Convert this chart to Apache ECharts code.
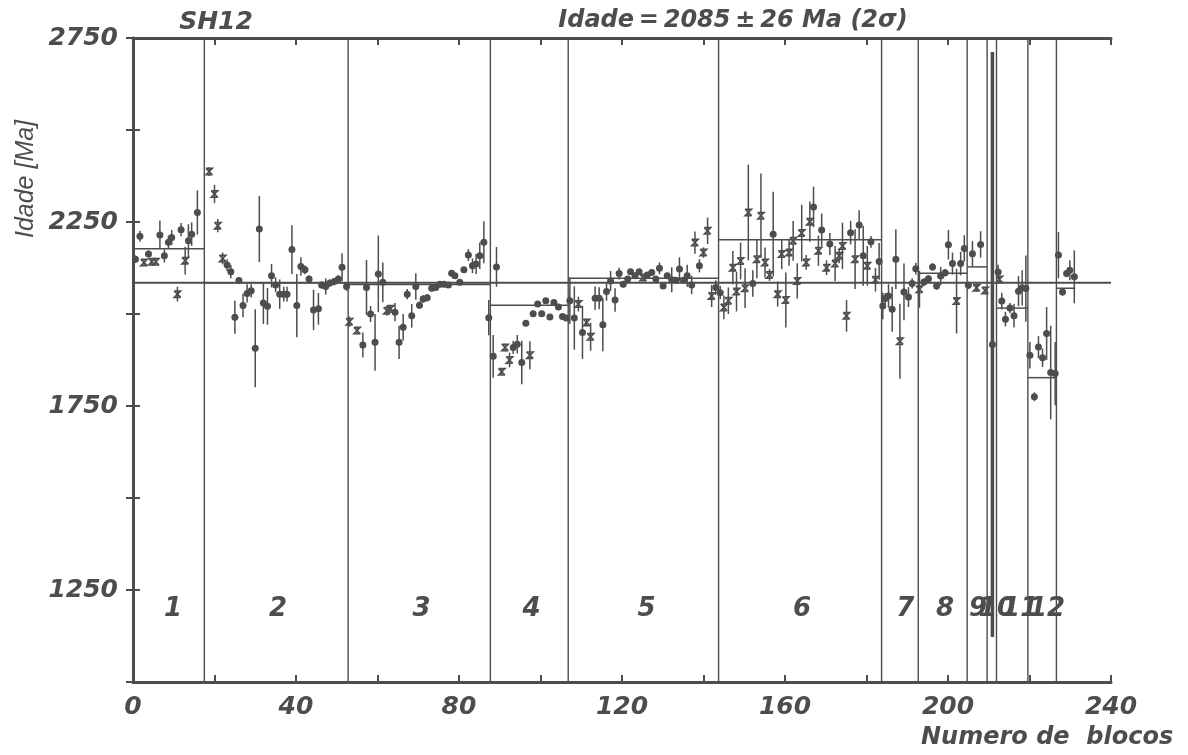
<!DOCTYPE html>
<html>
<head>
<meta charset="utf-8">
<script src="https://cdn.jsdelivr.net/npm/echarts@6/dist/echarts.min.js"></script>
<style>
  html, body { margin: 0; padding: 0; background: #ffffff; }
  #c { width: 1188px; height: 755px; }
</style>
</head>
<body>
<div id="c"></div>
<script>
// Pb-Pb evaporation ages of sample SH12, by block number.
// Each tuple: [block number, age (Ma), error (Ma), kind] with kind 0 = filled circle, 1 = star.
const bloco1 = [[0.6,2149,10,0],[1.7,2211,15,0],[2.7,2140,8,1],[3.8,2163,9,0],[4.6,2142,8,1],[5.6,2142,8,1],
  [6.6,2215,39,0],[7.7,2158,18,0],[8.7,2195,18,0],[9.5,2208,20,0],[10.9,2054,20,1],[11.8,2229,18,0],
  [12.8,2145,38,1],[13.6,2199,45,0],[14.4,2217,32,0],[15.8,2276,60,0]];
const bloco2 = [[18.7,2387,12,1],[20.0,2326,25,1],[20.8,2240,18,1],[22.0,2151,16,1],[23.1,2133,16,0],
  [24.0,2115,18,0],[25.0,1991,45,0],[26.0,2091,8,0],[27.0,2023,32,0],[28.0,2056,25,0],[29.0,2063,18,0],
  [30.0,1907,106,0],[31.0,2231,90,0],[32.0,2030,57,0],[33.0,2021,50,0],[34.0,2104,32,0],[35.0,2079,20,0],
  [36.0,2054,40,0],[37.0,2054,20,0],[37.8,2054,20,0],[39.0,2175,66,0],[40.2,2023,86,0],[41.2,2129,25,0],
  [42.2,2120,12,0],[43.2,2095,10,0],[44.3,2011,55,0],[45.5,2014,43,0],[46.3,2079,10,0],[47.3,2075,22,0],
  [48.3,2084,10,0],[49.4,2088,10,0],[50.4,2095,10,0],[51.3,2127,38,0],[52.4,2075,12,0]];
const bloco3 = [[53.1,1979,14,1],[55.0,1955,10,1],[56.4,1916,34,0],[57.3,2072,75,0],[58.3,2000,22,0],
  [59.4,1923,77,0],[60.2,2109,104,0],[61.3,2086,54,0],[62.3,2009,14,1],[63.2,2014,10,1],[64.3,2005,25,0],
  [65.3,1923,45,0],[66.3,1964,36,0],[67.3,2054,14,0],[68.4,1995,32,0],[69.4,2075,36,0],[70.3,2024,10,0],
  [71.2,2041,10,0],[72.2,2044,10,0],[73.3,2070,8,0],[74.3,2072,8,0],[75.3,2081,8,0],[76.3,2081,8,0],
  [77.4,2079,8,0],[78.2,2111,8,0],[79.0,2104,8,0],[80.2,2086,8,0],[81.2,2120,8,0],[82.3,2160,16,0],
  [83.3,2131,20,0],[84.2,2136,27,0],[85.1,2158,36,0],[86.1,2195,57,0],[87.3,1990,48,0]];
const bloco4 = [[88.4,1885,58,0],[89.2,2128,54,0],[90.5,1843,8,1],[91.3,1909,10,1],[92.4,1875,20,1],
  [93.3,1909,18,0],[94.3,1918,25,0],[95.4,1868,59,0],[96.4,1975,8,0],[97.4,1888,38,1],[98.2,2001,8,0],
  [99.3,2027,8,0],[100.3,2001,8,0],[101.3,2036,8,0],[102.3,1992,8,0],[103.3,2031,8,0],[104.4,2019,8,0],
  [105.4,1993,8,0],[106.3,1989,8,0]];
const bloco5 = [[107.2,2036,63,0],[108.3,1989,86,0],[109.3,2027,20,1],[110.3,1950,72,0],[111.3,1977,10,1],
  [112.3,1938,38,1],[113.4,2043,32,0],[114.4,2043,30,0],[115.3,1971,72,0],[116.2,2061,25,0],[117.2,2090,27,0],
  [118.3,2038,32,0],[119.3,2110,16,0],[120.3,2081,8,0],[121.4,2095,8,0],[122.1,2115,8,0],[123.2,2104,8,0],
  [124.2,2115,8,0],[125.2,2099,8,1],[126.2,2106,8,0],[127.3,2113,8,0],[128.3,2095,8,0],[129.2,2124,16,0],
  [130.1,2076,8,0],[131.1,2104,8,0],[132.2,2093,34,0],[133.2,2092,8,0],[134.1,2122,32,0],[135.1,2092,8,0],
  [136.0,2104,30,0],[137.1,2079,25,0],[137.9,2194,30,1],[139.0,2131,18,0],[140.0,2167,14,1],[141.0,2226,36,1],
  [142.0,2049,30,1],[143.0,2072,20,0]];
const bloco6 = [[144.1,2058,18,0],[145.0,2018,32,1],[146.1,2036,36,1],[147.2,2126,45,1],[148.1,2061,54,1],
  [149.1,2144,50,1],[150.2,2070,54,1],[151.0,2276,130,1],[152.1,2083,36,0],[153.1,2149,52,1],[154.1,2267,115,1],
  [155.1,2140,41,1],[156.2,2106,16,1],[157.1,2217,115,0],[158.2,2054,34,1],[159.2,2163,41,1],[160.2,2038,75,1],
  [161.0,2167,36,1],[162.0,2199,54,1],[163.0,2090,48,1],[164.1,2220,77,1],[165.2,2140,20,1],[166.1,2251,55,1],
  [167.0,2291,55,0],[168.2,2172,41,1],[169.0,2228,45,0],[170.2,2126,20,1],[171.0,2190,30,0],[172.3,2137,48,1],
  [173.3,2158,20,1],[174.1,2185,63,1],[175.1,1995,43,1],[176.1,2221,32,0],[177.2,2149,81,1],[178.2,2242,40,0],
  [179.2,2158,81,0],[180.2,2131,54,1],[181.1,2196,16,0],[182.2,2093,32,1],[183.1,2143,50,0]];
const bloco7 = [[184.0,2022,36,0],[184.6,2042,15,0],[185.4,2049,32,0],[186.3,2013,61,0],[187.2,2149,81,0],
  [188.2,1926,102,1],[189.2,2060,77,0],[190.3,2046,27,0],[191.2,2083,14,0],[192.1,2123,16,0]];
const bloco8 = [[193.0,2067,50,1],[194.1,2087,10,0],[195.2,2096,10,0],[196.2,2128,10,0],[197.2,2076,10,0],
  [198.2,2103,25,0],[199.3,2112,10,0],[200.1,2188,40,0],[201.1,2137,30,0],[202.1,2035,88,1],[203.1,2137,32,0],
  [204.0,2178,36,0]];
const bloco9 = [[205.0,2078,10,0],[206.0,2164,34,0],[207.0,2071,10,1],[208.0,2189,36,0],[209.1,2064,10,1]];
const bloco10 = [[210.9,1917,795,0]];
const bloco11 = [[212.3,2114,20,0],[212.6,2094,10,1],[213.2,2035,23,0],[214.1,1986,20,0],[215.2,2016,14,0],
  [216.2,1995,32,0],[217.3,2062,41,0],[218.2,2071,48,0],[219.1,2069,90,0]];
const bloco12 = [[220.1,1888,36,0],[221.2,1775,12,0],[222.2,1910,30,0],[223.2,1881,25,0],[224.2,1947,72,0],
  [225.2,1841,127,0],[226.3,1838,86,0]];
const bloco13 = [[227.1,2160,63,0],[228.1,2060,10,0],[229.1,2110,10,0],[229.9,2119,27,0],[231.0,2101,72,0]];

// Block boundaries and block mean ages (Ma)
const dividers   = [17.5, 52.8, 87.7, 106.8, 143.7, 183.7, 192.7, 204.7, 209.6, 211.9, 219.6, 226.6];
const blockStart = [0, 17.5, 52.8, 87.7, 106.8, 143.7, 183.7, 192.7, 204.7, 209.6, 211.9, 219.6, 226.6];
const blockEnd   = [17.5, 52.8, 87.7, 106.8, 143.7, 183.7, 192.7, 204.7, 209.6, 211.9, 219.6, 226.6, 231.2];
const blockMean  = [2177, 2085, 2080, 2024, 2097, 2202, null, 2111, 2128, null, 2016, 1827, 2070];
const overallAge = 2085;

// Block number labels
const blockNames  = ['1','2','3','4','5','6','7','8','9','10','11','12'];
const blockLabelX = [9.8, 35.6, 70.8, 97.8, 126.0, 164.2, 189.5, 199.3, 207.4, 212.0, 217.7, 224.3];
const blockLabelY = 1198;

// Axis ranges and ticks
const xMin = 0, xMax = 240, xStep = 20, xLabelStep = 40;
const yMin = 1000, yMax = 2750, yStep = 250, yLabelFrom = 1250, yLabelStep = 500;

const INK = '#4d4d4d';
const TICK_FONT = '"DejaVu Sans", sans-serif';

const allPoints = [].concat(bloco1, bloco2, bloco3, bloco4, bloco5, bloco6, bloco7,
  bloco8, bloco9, bloco10, bloco11, bloco12, bloco13);
const meanSegments = blockMean
  .map((m, i) => [blockStart[i], blockEnd[i], m])
  .filter(d => d[2] !== null);
const labelData = blockLabelX.map((x, i) => [x, blockLabelY, i]);

function drawPoint(params, api) {
  const x = api.value(0), y = api.value(1), e = api.value(2), kind = api.value(3);
  const c = api.coord([x, y]);
  const hi = api.coord([x, y + e]);
  const lo = api.coord([x, y - e]);
  const kids = [{
    type: 'line',
    shape: { x1: c[0], y1: hi[1], x2: c[0], y2: lo[1] },
    style: { stroke: INK, lineWidth: e > 300 ? 3.5 : 1.5 }
  }];
  if (kind === 0) {
    kids.push({ type: 'circle', shape: { cx: c[0], cy: c[1], r: 3.5 }, style: { fill: INK } });
  } else {
    const s = 3.2;
    kids.push({
      type: 'polyline',
      shape: { points: [[c[0] - s, c[1] - s], [c[0] + s, c[1] - s], [c[0] - s, c[1] + s], [c[0] + s, c[1] + s]] },
      style: { stroke: INK, fill: null, lineWidth: 1.6 }
    });
    kids.push({
      type: 'line',
      shape: { x1: c[0] - s, y1: c[1] - s, x2: c[0] + s, y2: c[1] + s },
      style: { stroke: INK, lineWidth: 1.6 }
    });
  }
  return { type: 'group', children: kids };
}

function drawDivider(params, api) {
  const x = api.value(0);
  const a = api.coord([x, yMin]);
  const b = api.coord([x, yMax]);
  return { type: 'line', shape: { x1: a[0], y1: a[1], x2: b[0], y2: b[1] },
           style: { stroke: INK, lineWidth: 1.4 } };
}

function drawMean(params, api) {
  const a = api.coord([api.value(0), api.value(2)]);
  const b = api.coord([api.value(1), api.value(2)]);
  return { type: 'line', shape: { x1: a[0], y1: a[1], x2: b[0], y2: b[1] },
           style: { stroke: INK, lineWidth: 1.5 } };
}

function drawLabel(params, api) {
  const c = api.coord([api.value(0), api.value(1)]);
  return { type: 'text', x: c[0], y: c[1],
           style: { text: blockNames[api.value(2)], fill: INK,
                    font: 'italic 600 26px "DejaVu Sans", sans-serif',
                    align: 'center', verticalAlign: 'middle',
                    textAlign: 'center', textVerticalAlign: 'middle' } };
}

const axisLineStyle = { show: true, lineStyle: { color: INK, width: 3 } };
const axisTickStyle = { show: true, inside: true, length: 7, lineStyle: { color: INK, width: 2 } };
const labelFont = { color: INK, fontFamily: TICK_FONT, fontWeight: 'bold', fontStyle: 'italic', fontSize: 25 };

const option = {
  animation: false,
  backgroundColor: '#ffffff',
  grid: { left: 133, right: 77, top: 38, bottom: 73 },
  xAxis: [
    { type: 'value', position: 'bottom', min: xMin, max: xMax, interval: xStep,
      axisLine: axisLineStyle, axisTick: axisTickStyle, splitLine: { show: false },
      axisLabel: Object.assign({ margin: 13, formatter: v => (v % xLabelStep === 0 ? String(v) : '') }, labelFont) },
    { type: 'value', position: 'top', min: xMin, max: xMax, interval: xStep,
      axisLine: axisLineStyle, axisTick: axisTickStyle, splitLine: { show: false },
      axisLabel: { show: false } }
  ],
  yAxis: [
    { type: 'value', position: 'left', min: yMin, max: yMax, interval: yStep,
      axisLine: axisLineStyle, axisTick: axisTickStyle, splitLine: { show: false },
      axisLabel: Object.assign({ margin: 15, padding: [8, 0, 0, 0],
        formatter: v => (v >= yLabelFrom && (v - yLabelFrom) % yLabelStep === 0 ? String(v) : '') }, labelFont) },
    { type: 'value', position: 'right', min: yMin, max: yMax, interval: yStep,
      axisLine: axisLineStyle, axisTick: axisTickStyle, splitLine: { show: false },
      axisLabel: { show: false } }
  ],
  graphic: [
    { type: 'text', x: 216, y: 22,
      style: { text: 'SH12', fill: INK, font: 'bold italic 25px "DejaVu Sans", sans-serif',
               textAlign: 'center', textVerticalAlign: 'middle' } },
    { type: 'text', x: 733, y: 21,
      style: { text: 'Idade\u2009=\u20092085\u2009\u00b1\u200926 Ma (2\u03c3)', fill: INK,
               font: 'bold italic 24px "DejaVu Sans", sans-serif',
               textAlign: 'center', textVerticalAlign: 'middle' } },
    { type: 'text', x: 921, y: 738,
      style: { text: 'Numero de  blocos', fill: INK, font: 'bold italic 24px "DejaVu Sans", sans-serif',
               textAlign: 'left', textVerticalAlign: 'middle' } },
    { type: 'text', x: 26, y: 179, rotation: Math.PI / 2,
      style: { text: 'Idade [Ma]', fill: INK, font: 'italic 25px "Liberation Sans", sans-serif',
               textAlign: 'center', textVerticalAlign: 'middle' } }
  ],
  series: [
    { type: 'custom', name: 'blocos', data: dividers.map(x => [x]), renderItem: drawDivider,
      encode: { x: 0 }, silent: true, z: 1 },
    { type: 'line', name: 'idade', data: [[xMin, overallAge], [xMax, overallAge]], showSymbol: false,
      lineStyle: { color: INK, width: 2 }, silent: true, z: 2 },
    { type: 'custom', name: 'medias', data: meanSegments, renderItem: drawMean,
      encode: { x: [0, 1], y: 2 }, silent: true, z: 2 },
    { type: 'custom', name: 'analises', data: allPoints, renderItem: drawPoint,
      encode: { x: 0, y: 1 }, silent: true, z: 3 },
    { type: 'custom', name: 'rotulos', data: labelData, renderItem: drawLabel,
      encode: { x: 0, y: 1 }, silent: true, z: 4 }
  ]
};

const chart = echarts.init(document.getElementById('c'));
chart.setOption(option);
</script>
</body>
</html>
